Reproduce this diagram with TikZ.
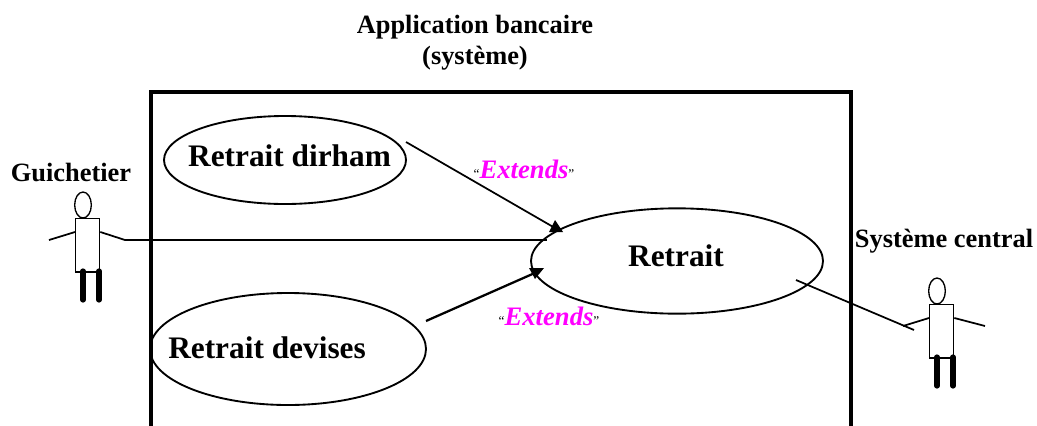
\documentclass[tikz,border=0pt]{standalone}
\usepackage{fontspec}
\setmainfont{Liberation Serif}
\usetikzlibrary{shapes.geometric}
\definecolor{ext}{RGB}{255,0,255}
\tikzset{
 x=0.75pt,y=-0.75pt,
 uc/.style={draw,ellipse,line width=1.4pt,inner sep=0pt,minimum width=#1},
 thin line/.style={line width=1.3pt},
 arrowline/.style={line width=1.3pt},
 boldarrowline/.style={line width=1.7pt},
 tiphead/.style={fill=black,draw=none},
 leg/.style={line width=3.9pt,line cap=round},
 lbl/.style={font=\bfseries\fontsize{19.8pt}{23.2pt}\selectfont,inner sep=0pt,align=center},
 uclbl/.style={font=\bfseries\fontsize{23.5pt}{26pt}\selectfont,inner sep=0pt},
 extlbl/.style={inner sep=0pt,font=\fontsize{10pt}{12pt}\selectfont},
}
\newcommand{\extword}{\textcolor{ext}{\fontsize{20pt}{22pt}\selectfont\bfseries\itshape Extends}}
\newcommand{\actor}[4]{% name, x, y of head centre, right arm reach
 \node[draw,ellipse,line width=1pt,minimum width=12.5pt,minimum height=19.5pt,inner sep=0pt] (#1head) at (#2,#3) {};
 \node[draw,rectangle,line width=1pt,minimum width=18pt,minimum height=40pt,inner sep=0pt,anchor=north west] (#1body) at (#2-8,#3+13) {};
 \coordinate (#1la) at (#2-34,#3+35);
 \coordinate (#1ra) at (#2+#4,#3+35);
 \draw[thin line] (#1body.north west |- 0,#3+27) -- (#1la);
 \draw[thin line] (#1body.north east |- 0,#3+27) -- (#1ra);
 \coordinate (#1l1a) at (#2,#3+66);
 \coordinate (#1l1b) at (#2,#3+95);
 \coordinate (#1l2a) at (#2+16,#3+66);
 \coordinate (#1l2b) at (#2+16,#3+95);
 \draw[leg] (#1l1a) -- (#1l1b);
 \draw[leg] (#1l2a) -- (#1l2b);
}
\begin{document}
\begin{tikzpicture}
\useasboundingbox (0,0) rectangle (1037,425);
\clip (0,0) rectangle (1037,425);
% frame
\coordinate (fbl) at (151,427);
\coordinate (ftl) at (151,92);
\coordinate (ftr) at (851,92);
\coordinate (fbr) at (851,427);
\draw[line width=3pt,line join=miter] (fbl) -- (ftl) -- (ftr) -- (fbr);
\node[lbl] (title) at (475,43) {Application bancaire\\(système)};
% use cases
\node[uc=181.5pt,minimum height=66pt] (dirham) at (285,160) {};
\node[uclbl] (dirhamT) at (289.5,156) {Retrait dirham};
\node[uc=207pt,minimum height=84pt] (devises) at (288,349) {};
\node[uclbl,anchor=west] (devisesT) at (168,347.5) {Retrait devises};
\node[uc=219pt,minimum height=79pt] (retrait) at (677,261) {};
\node[uclbl] (retraitT) at (676,255.5) {Retrait};
% actors
\actor{g}{83}{205}{42}
\actor{s}{937}{291}{48}
\node[lbl] (gT) at (71,172) {Guichetier};
\node[lbl] (sT) at (944,241) {Système central};
% connectors
\coordinate (gend) at (125,240);
\coordinate (rin) at (547,240);
\draw[thin line] (gend) -- (rin);
\coordinate (dstart) at (406,142);
\coordinate (dtip) at (555,228);
\draw[arrowline] (dstart) -- (dtip);
\fill[tiphead] (555,220) -- (563,232) -- (549,232) -- cycle;
\coordinate (vstart) at (426,321);
\coordinate (vtip) at (537,272);
\draw[boldarrowline] (vstart) -- (vtip);
\fill[tiphead] (535,279) -- (529,268) -- (544,268) -- cycle;
\coordinate (rout) at (796,280);
\coordinate (send) at (914,330);
\draw[thin line] (rout) -- (send);
% labels
\node[extlbl] (e1) at (524,169) {“\extword”};
\node[extlbl] (e2) at (549,316) {“\extword”};
\end{tikzpicture}
\end{document}
